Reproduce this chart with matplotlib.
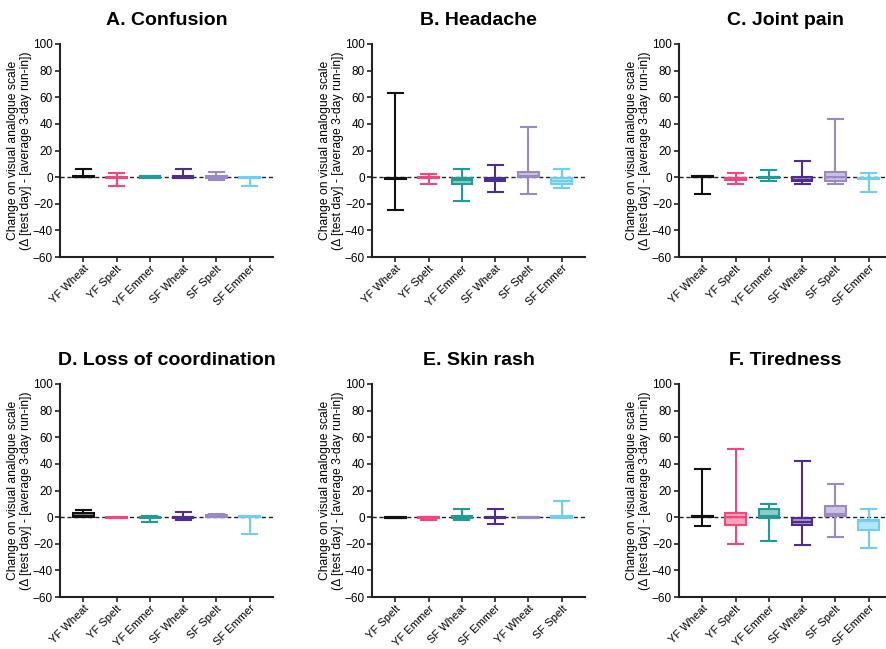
import matplotlib
matplotlib.use("Agg")
import matplotlib.pyplot as plt

plt.rcParams["font.family"] = ["Liberation Sans", "DejaVu Sans"]

labels = ["YF Wheat", "YF Spelt", "YF Emmer", "SF Wheat", "SF Spelt", "SF Emmer"]
labels_rash = ["YF Spelt", "YF Emmer", "SF Wheat", "SF Emmer", "YF Wheat", "SF Spelt"]
colors = ["#111111", "#f2477e", "#1f9c96", "#4f2c8f", "#9b88c6", "#6ccff3"]

# (min, q1, median, q3, max) per group
confusion = [(0, 0, 0, 0.5, 6), (-7, -1, -1, 0, 3), (-1, -1, 0, 0.5, 1),
             (-1, -1, 0, 0.5, 6), (-2, -0.5, 0, 0.5, 4), (-7, -1, -1, 0, 0)]
headache = [(-25, -1.5, -1, -1, 63), (-5, -1, -0.5, 0, 2), (-18, -5, -2, -1, 6),
            (-11, -3, -2, -1, 9), (-13, 0, 1, 4, 38), (-8, -5, -3, -1, 6)]
joint = [(-13, 0, 0, 0.5, 1), (-5, -2, -1, -1, 3), (-3, -1, 0, 0, 5),
         (-5, -3, -2, 0, 12), (-5, -3, 0, 4, 44), (-11, -1.5, -1, -0.5, 3)]
coordination = [(0, 0, 1, 3, 5), (-1, -1, -0.5, 0, 0), (-4, -1, 0, 0, 1),
                (-2, -1, 0, 0, 4), (0, 0, 0.5, 1.5, 2), (-13, 0, 0, 0.5, 1)]
rash = [(-1, -1, -0.5, 0, 0), (-2, -0.5, 0, 0, 0), (-2, -1, 0, 0.5, 6),
        (-5, -1, 0, 0, 6), (-1, -0.5, 0, 0, 0), (-1, -1, 0, 0.5, 12)]
tiredness = [(-7, 0, 0.5, 1, 36), (-20, -6, 0, 3, 51), (-18, -1, 1, 6, 10),
             (-21, -6, -4, -1, 42), (-15, 1, 2, 8, 25), (-23, -10, -3, -2, 6)]

panels = [
    ("A. Confusion", confusion, labels),
    ("B. Headache", headache, labels),
    ("C. Joint pain", joint, labels),
    ("D. Loss of coordination", coordination, labels),
    ("E. Skin rash", rash, labels_rash),
    ("F. Tiredness", tiredness, labels),
]

W, H = 886, 649
lefts = [60, 372, 679]
tops = [44, 384]
aw, ah = 213, 213

fig = plt.figure(figsize=(W / 100, H / 100), dpi=100)

for i, (title, stats, names) in enumerate(panels):
    row, col = divmod(i, 3)
    ax = fig.add_axes([lefts[col] / W, 1 - (tops[row] + ah) / H, aw / W, ah / H])
    ax.axhline(0, color="#222222", lw=1.0, ls=(0, (3, 2)), zorder=1)
    for j, (lo, q1, med, q3, hi) in enumerate(stats):
        c = colors[j]
        ax.bxp([dict(whislo=lo, q1=q1, med=med, q3=q3, whishi=hi, fliers=[])],
               positions=[j], widths=0.62, patch_artist=True, showfliers=False,
               boxprops=dict(facecolor=matplotlib.colors.to_rgba(c, 0.5),
                             edgecolor=c, lw=1.5),
               whiskerprops=dict(color=c, lw=1.5),
               capprops=dict(color=c, lw=1.5),
               medianprops=dict(color=c, lw=1.5),
               capwidths=0.45, manage_ticks=False, zorder=2)
    ax.set_xlim(-0.7, 5.7)
    ax.set_ylim(-60, 100)
    ax.set_yticks(range(-60, 101, 20))
    ax.set_xticks(range(6))
    ax.set_xticklabels(names, rotation=45, ha="right", rotation_mode="anchor")
    ax.tick_params(length=3.5, width=1.2, color="#222222", pad=1.5)
    ax.tick_params(axis="y", labelsize=8.5)
    ax.tick_params(axis="x", labelsize=8, pad=1)
    for s in ["top", "right"]:
        ax.spines[s].set_visible(False)
    for s in ["left", "bottom"]:
        ax.spines[s].set_linewidth(1.5)
        ax.spines[s].set_color("#222222")
    ax.set_ylabel("Change on visual analogue scale\n(\u0394 [test day] - [average 3-day run-in])",
                  fontsize=8.7, labelpad=1, linespacing=1.1)
    ax.set_title(title, fontsize=14, fontweight="bold", pad=14)

fig.savefig("out.png", dpi=100)
